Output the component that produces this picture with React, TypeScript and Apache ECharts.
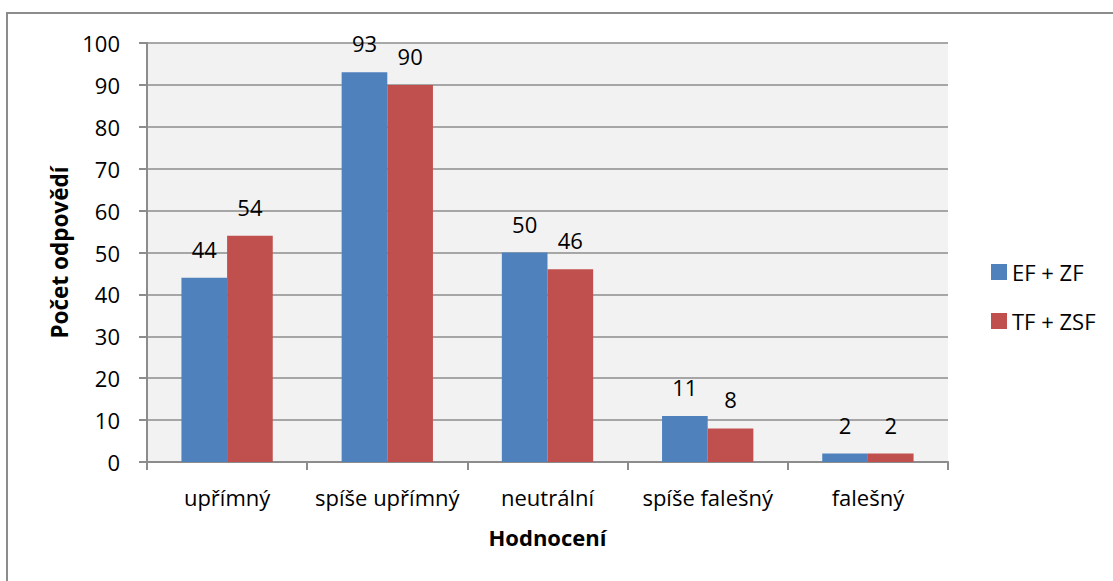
import React, { useEffect, useRef } from "react";
import * as echarts from "echarts";

const categories = ["upřímný", "spíše upřímný", "neutrální", "spíše falešný", "falešný"];
const seriesEF = [44, 93, 50, 11, 2];
const seriesTF = [54, 90, 46, 8, 2];
const seriesNames = ["EF + ZF", "TF + ZSF"];

const FONT = "'Open Sans', 'Noto Sans', sans-serif";

export default function App() {
  const ref = useRef<HTMLDivElement>(null);
  useEffect(() => {
    const chart = echarts.init(ref.current!, null, { renderer: "svg" });
    const labelStyle = {
      show: true,
      position: "top" as const,
      distance: 18,
      color: "#000",
      fontSize: 22,
      fontFamily: FONT,
    };
    chart.setOption({
      animation: false,
      backgroundColor: "#fff",
      textStyle: { fontFamily: FONT },
      graphic: [
        {
          type: "rect",
          shape: { x: 7, y: 13, width: 1200, height: 700 },
          style: { fill: "none", stroke: "#8c8c8c", lineWidth: 2 },
          silent: true,
        },
      ],
      grid: {
        left: 147,
        right: 165,
        top: 43,
        bottom: 119,
        show: true,
        backgroundColor: "#f2f2f2",
        borderWidth: 0,
      },
      legend: {
        orient: "vertical",
        left: 986,
        top: 256,
        itemWidth: 16,
        itemHeight: 16,
        itemGap: 27,
        icon: "rect",
        textStyle: { fontSize: 22, color: "#000", fontFamily: FONT },
        data: seriesNames,
      },
      xAxis: {
        type: "category",
        data: categories,
        name: "Hodnocení",
        nameLocation: "middle",
        nameGap: 64,
        nameTextStyle: { fontSize: 22, fontWeight: "bold", color: "#000", fontFamily: FONT },
        axisLine: { show: true, lineStyle: { color: "#8c8c8c", width: 2 } },
        axisTick: { show: true, length: 8, lineStyle: { color: "#8c8c8c", width: 2 } },
        axisLabel: { fontSize: 22, color: "#000", margin: 24, interval: 0, fontFamily: FONT },
      },
      yAxis: {
        type: "value",
        min: 0,
        max: 100,
        interval: 10,
        name: "Počet odpovědí",
        nameLocation: "middle",
        nameGap: 76,
        nameRotate: 90,
        nameTextStyle: { fontSize: 22.5, fontWeight: "bold", color: "#000", fontFamily: FONT },
        axisLine: { show: true, lineStyle: { color: "#8c8c8c", width: 2 } },
        axisTick: { show: true, length: 8, lineStyle: { color: "#8c8c8c", width: 2 } },
        axisLabel: { fontSize: 22, color: "#000", margin: 27, fontFamily: FONT },
        splitLine: { show: true, lineStyle: { color: "#8c8c8c", width: 1.5 } },
      },
      series: [
        {
          name: seriesNames[0],
          type: "bar",
          data: seriesEF,
          itemStyle: { color: "#4f81bd" },
          barGap: "0%",
          barCategoryGap: "43%",
          label: labelStyle,
        },
        {
          name: seriesNames[1],
          type: "bar",
          data: seriesTF,
          itemStyle: { color: "#c0504d" },
          barGap: "0%",
          barCategoryGap: "43%",
          label: labelStyle,
        },
      ],
    });
    return () => chart.dispose();
  }, []);
  return (
    <div
      ref={ref}
      style={{ position: "fixed", left: 0, top: 0, width: 1113, height: 581 }}
    />
  );
}
